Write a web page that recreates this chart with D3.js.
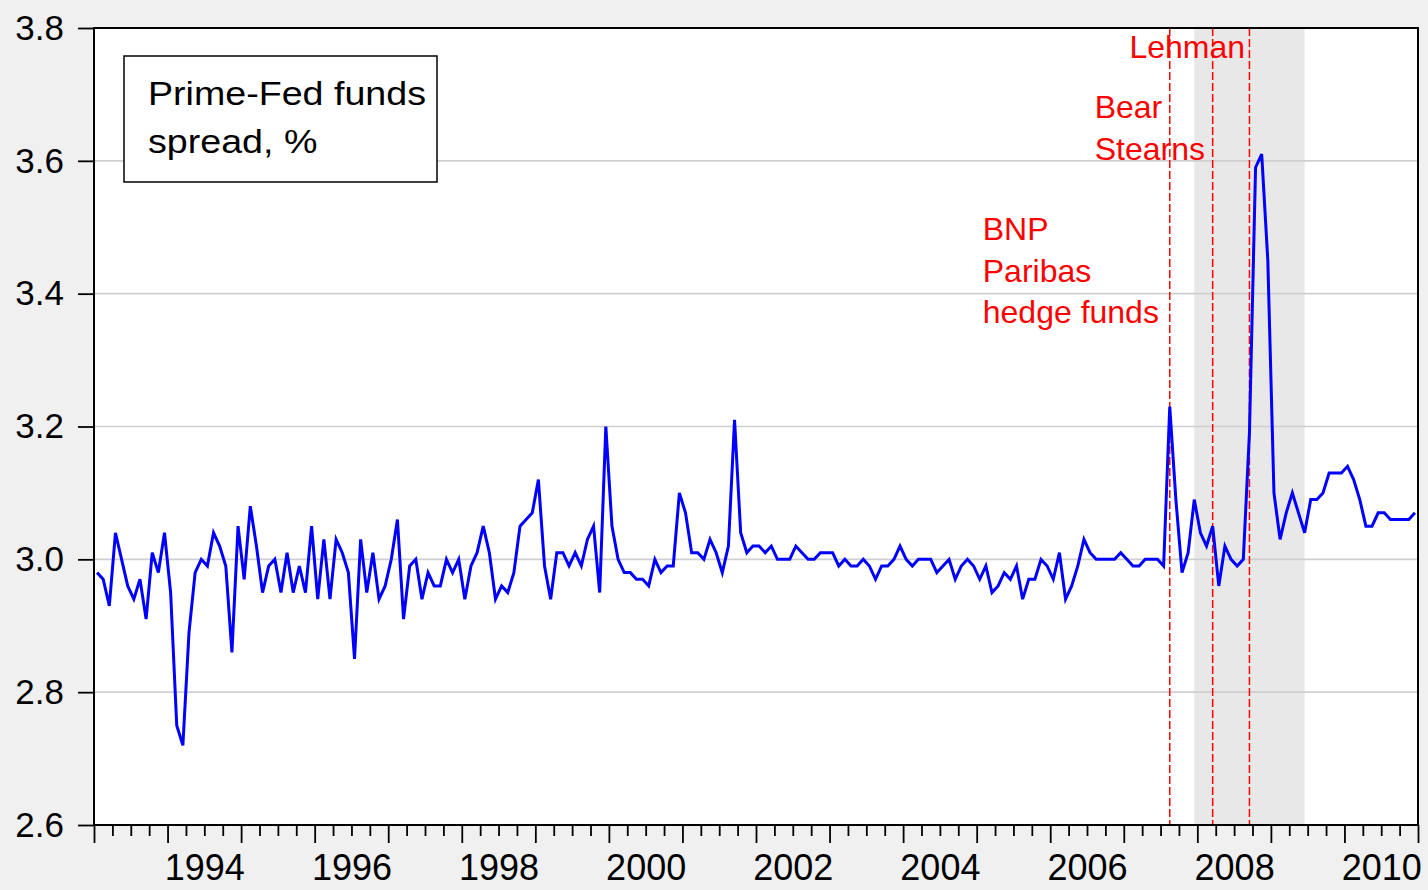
<!DOCTYPE html>
<html>
<head>
<meta charset="utf-8">
<script src="https://cdn.jsdelivr.net/npm/d3@7"></script>
<style>
  body { margin: 0; background: #f0f0f0; }
  svg { display: block; font-family: Arial, "Liberation Sans", sans-serif; }
</style>
</head>
<body>
<div id="chart"></div>
<script>
// Prime rate minus effective Fed funds rate, monthly, 1993M01 - 2010M12
const startYear = 1993;
const spread = [
  2.98, 2.97, 2.93, 3.04, 3.00, 2.96, 2.94, 2.97, 2.91, 3.01, 2.98, 3.04, // 1993
  2.95, 2.75, 2.72, 2.89, 2.98, 3.00, 2.99, 3.04, 3.02, 2.99, 2.86, 3.05, // 1994
  2.97, 3.08, 3.02, 2.95, 2.99, 3.00, 2.95, 3.01, 2.95, 2.99, 2.95, 3.05, // 1995
  2.94, 3.03, 2.94, 3.03, 3.01, 2.98, 2.85, 3.03, 2.95, 3.01, 2.94, 2.96, // 1996
  3.00, 3.06, 2.91, 2.99, 3.00, 2.94, 2.98, 2.96, 2.96, 3.00, 2.98, 3.00, // 1997
  2.94, 2.99, 3.01, 3.05, 3.01, 2.94, 2.96, 2.95, 2.98, 3.05, 3.06, 3.07, // 1998
  3.12, 2.99, 2.94, 3.01, 3.01, 2.99, 3.01, 2.99, 3.03, 3.05, 2.95, 3.20, // 1999
  3.05, 3.00, 2.98, 2.98, 2.97, 2.97, 2.96, 3.00, 2.98, 2.99, 2.99, 3.10, // 2000
  3.07, 3.01, 3.01, 3.00, 3.03, 3.01, 2.98, 3.02, 3.21, 3.04, 3.01, 3.02, // 2001
  3.02, 3.01, 3.02, 3.00, 3.00, 3.00, 3.02, 3.01, 3.00, 3.00, 3.01, 3.01, // 2002
  3.01, 2.99, 3.00, 2.99, 2.99, 3.00, 2.99, 2.97, 2.99, 2.99, 3.00, 3.02, // 2003
  3.00, 2.99, 3.00, 3.00, 3.00, 2.98, 2.99, 3.00, 2.97, 2.99, 3.00, 2.99, // 2004
  2.97, 2.99, 2.95, 2.96, 2.98, 2.97, 2.99, 2.94, 2.97, 2.97, 3.00, 2.99, // 2005
  2.97, 3.01, 2.94, 2.96, 2.99, 3.03, 3.01, 3.00, 3.00, 3.00, 3.00, 3.01, // 2006
  3.00, 2.99, 2.99, 3.00, 3.00, 3.00, 2.99, 3.23, 3.09, 2.98, 3.01, 3.09, // 2007
  3.04, 3.02, 3.05, 2.96, 3.02, 3.00, 2.99, 3.00, 3.19, 3.59, 3.61, 3.45, // 2008
  3.10, 3.03, 3.07, 3.10, 3.07, 3.04, 3.09, 3.09, 3.10, 3.13, 3.13, 3.13, // 2009
  3.14, 3.12, 3.09, 3.05, 3.05, 3.07, 3.07, 3.06, 3.06, 3.06, 3.06, 3.07  // 2010
];

// events: [year, month]
const eventMonths = [[2007, 8], [2008, 3], [2008, 9]];
const eventLines = [["BNP", "Paribas", "hedge funds"], ["Bear", "Stearns"], ["Lehman"]];

// NBER recession 2007M12 - 2009M06
const recession = [[2007, 12], [2009, 6]];

const yTicks = [2.6, 2.8, 3.0, 3.2, 3.4, 3.6, 3.8];
const yearLabels = [1994, 1996, 1998, 2000, 2002, 2004, 2006, 2008, 2010];
const legendLines = ["Prime-Fed funds", "spread, %"];

const width = 1428, height = 890;
const plot = { left: 94, right: 1418, top: 28, bottom: 825 };
const font = "Arial, 'Liberation Sans', sans-serif";

// monthly obs sit in the middle of their month
const monthPos = (y, m) => y + (m - 0.5) / 12;
const data = spread.map((v, i) => ({ t: monthPos(startYear + Math.floor(i / 12), (i % 12) + 1), v: v }));

const svg = d3.select("#chart").append("svg")
    .attr("width", width)
    .attr("height", height);

svg.append("rect").attr("width", width).attr("height", height).attr("fill", "#f0f0f0");

const x = d3.scaleLinear().domain([1993, 2011]).range([plot.left, plot.right]);
const y = d3.scaleLinear().domain([2.6, 3.8]).range([plot.bottom, plot.top]);

// plot area
svg.append("rect")
    .attr("x", plot.left).attr("y", plot.top)
    .attr("width", plot.right - plot.left).attr("height", plot.bottom - plot.top)
    .attr("fill", "#ffffff");

// recession shading
svg.append("rect")
    .attr("x", x(monthPos(...recession[0])))
    .attr("y", plot.top)
    .attr("width", x(monthPos(...recession[1])) - x(monthPos(...recession[0])))
    .attr("height", plot.bottom - plot.top)
    .attr("fill", "#e8e8e8");

// gridlines
svg.append("g")
    .selectAll("line")
    .data(yTicks.slice(1, -1))
    .enter().append("line")
    .attr("x1", plot.left).attr("x2", plot.right)
    .attr("y1", d => y(d)).attr("y2", d => y(d))
    .attr("stroke", "#cfcfcf")
    .attr("stroke-width", 1.6);

// event lines
svg.append("g")
    .selectAll("line")
    .data(eventMonths)
    .enter().append("line")
    .attr("x1", d => x(monthPos(...d))).attr("x2", d => x(monthPos(...d)))
    .attr("y1", plot.top).attr("y2", plot.bottom)
    .attr("stroke", "#ff0000")
    .attr("stroke-width", 1.5)
    .attr("stroke-dasharray", "8,3");

// series
const line = d3.line().x(d => x(d.t)).y(d => y(d.v));
svg.append("path")
    .datum(data)
    .attr("d", line)
    .attr("fill", "none")
    .attr("stroke", "#0000ff")
    .attr("stroke-width", 3)
    .attr("stroke-linejoin", "miter");

// event labels (left edge offset from each event line)
const labelOffsets = [[-187, 240], [-118, 118], [-120, 58]];
eventLines.forEach((lines, k) => {
    const ex = x(monthPos(...eventMonths[k]));
    const t = svg.append("text")
        .attr("x", ex + labelOffsets[k][0])
        .attr("y", labelOffsets[k][1])
        .attr("fill", "#ff0000")
        .attr("font-size", 32);
    lines.forEach((s, j) => {
        t.append("tspan").attr("x", ex + labelOffsets[k][0]).attr("dy", j === 0 ? 0 : 41.5).text(s);
    });
});

// frame
svg.append("rect")
    .attr("x", plot.left).attr("y", plot.top)
    .attr("width", plot.right - plot.left).attr("height", plot.bottom - plot.top)
    .attr("fill", "none")
    .attr("stroke", "#000")
    .attr("stroke-width", 2);

// y axis
const yAxis = svg.append("g")
    .attr("transform", `translate(${plot.left},0)`)
    .call(d3.axisLeft(y).tickValues(yTicks).tickSize(16).tickPadding(14).tickFormat(d3.format(".1f")));
yAxis.select(".domain").remove();
yAxis.selectAll(".tick line").attr("stroke", "#000").attr("stroke-width", 1.5);
yAxis.selectAll("text").attr("font-size", 35).attr("fill", "#000").attr("font-family", font);

// x axis: year ticks, quarter ticks, labels mid-year
const years = d3.range(1993, 2012);
const quarters = d3.range(1993, 2011, 0.25).filter(q => q % 1 !== 0);

const xMajor = svg.append("g")
    .attr("transform", `translate(0,${plot.bottom})`)
    .call(d3.axisBottom(x).tickValues(years).tickSize(18).tickFormat(""));
const xMinor = svg.append("g")
    .attr("transform", `translate(0,${plot.bottom})`)
    .call(d3.axisBottom(x).tickValues(quarters).tickSize(11).tickFormat(""));
const xLab = svg.append("g")
    .attr("transform", `translate(0,${plot.bottom})`)
    .call(d3.axisBottom(x).tickValues(yearLabels.map(d => d + 0.5)).tickSize(0).tickPadding(29).tickFormat(d => String(Math.floor(d))));
[xMajor, xMinor, xLab].forEach(g => g.select(".domain").remove());
svg.selectAll(".tick line").attr("stroke", "#000").attr("stroke-width", 1.8);
xLab.selectAll("text").attr("font-size", 36).attr("fill", "#000").attr("font-family", font);

// legend box
const legend = svg.append("g").attr("transform", "translate(124,56)");
legend.append("rect")
    .attr("width", 313).attr("height", 126)
    .attr("fill", "#fff")
    .attr("stroke", "#000")
    .attr("stroke-width", 1.5);
legendLines.forEach((s, j) => {
    legend.append("text")
        .attr("transform", `translate(24,${49 + j * 48}) scale(1.14,1)`)
        .attr("font-size", 33)
        .attr("fill", "#000")
        .text(s);
});
</script>
</body>
</html>
